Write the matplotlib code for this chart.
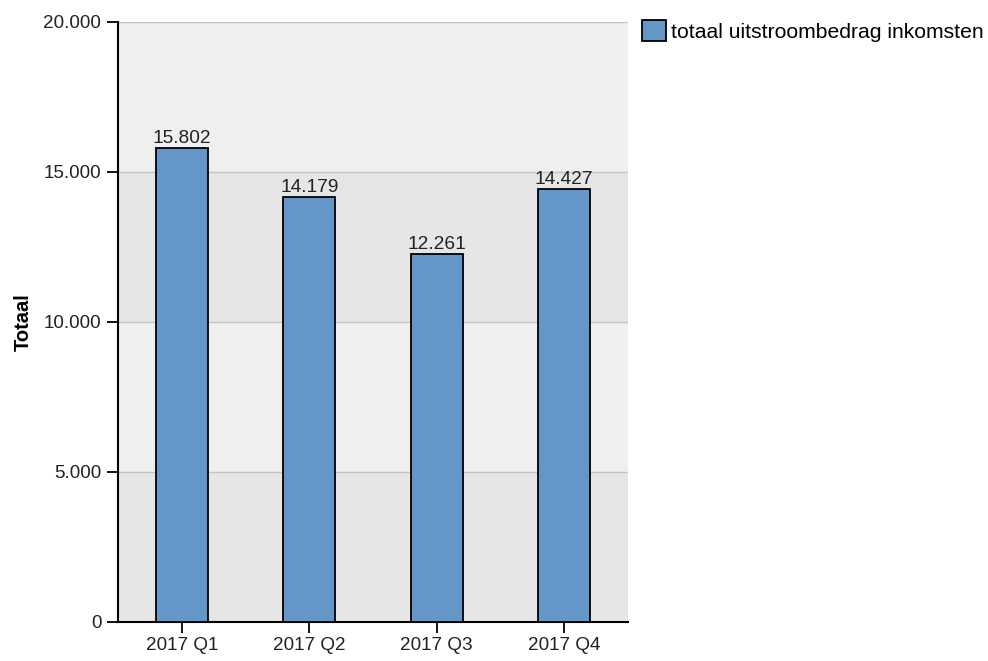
import matplotlib
matplotlib.use("Agg")
import matplotlib.pyplot as plt
from matplotlib.patches import Patch

plt.rcParams['font.family'] = ['Liberation Sans', 'DejaVu Sans']

quarters = ["2017 Q1", "2017 Q2", "2017 Q3", "2017 Q4"]
totals = [15802, 14179, 12261, 14427]
series_name = "totaal uitstroombedrag inkomsten"
yticks = [0, 5000, 10000, 15000, 20000]

def dots(v):
    return "{:,}".format(int(v)).replace(",", ".")

fig = plt.figure(figsize=(9.88, 6.61), dpi=100)
ax = fig.add_axes([118/988, 1-622/661, 510/988, 600/661])

# alternating background bands
for i in range(len(yticks)-1):
    col = "#e6e6e6" if i % 2 == 0 else "#efefef"
    ax.axhspan(yticks[i], yticks[i+1], color=col, zorder=0, lw=0)
for t in yticks[1:]:
    ax.axhline(t, color="#c4c4c4", lw=1, zorder=1)

x = range(len(quarters))
bars = ax.bar(x, totals, width=0.41, color="#6596c8", edgecolor="black", linewidth=1.3, zorder=3)
for xi, v in zip(x, totals):
    ax.text(xi, v + 30, dots(v), ha="center", va="bottom", fontsize=13.8, color="#222222", zorder=4)

ax.set_xlim(-0.5, 3.5)
ax.set_ylim(0, 20000)
ax.set_xticks(list(x))
ax.set_xticklabels(quarters, fontsize=13.6)
ax.set_yticks(yticks)
ax.set_yticklabels([dots(t) for t in yticks], fontsize=13.6)
ax.tick_params(axis="both", length=8, width=1.3, color="black", labelcolor="#222222")
ax.tick_params(axis="y", pad=4)
ax.tick_params(axis="x", pad=3)
for s in ["top", "right"]:
    ax.spines[s].set_visible(False)
for s in ["left", "bottom"]:
    ax.spines[s].set_linewidth(1.5)
ax.set_ylabel("Totaal", fontsize=14.5, fontweight="bold", labelpad=7.5)

handle = Patch(facecolor="#6596c8", edgecolor="black", linewidth=1.3)
fig.legend([handle], [series_name], loc="upper left", bbox_to_anchor=(634/988, 1-12/661),
           frameon=False, fontsize=15.2, handlelength=1.1, handleheight=1.1,
           handletextpad=0.25, borderaxespad=0)

fig.savefig("out.png", dpi=100)
